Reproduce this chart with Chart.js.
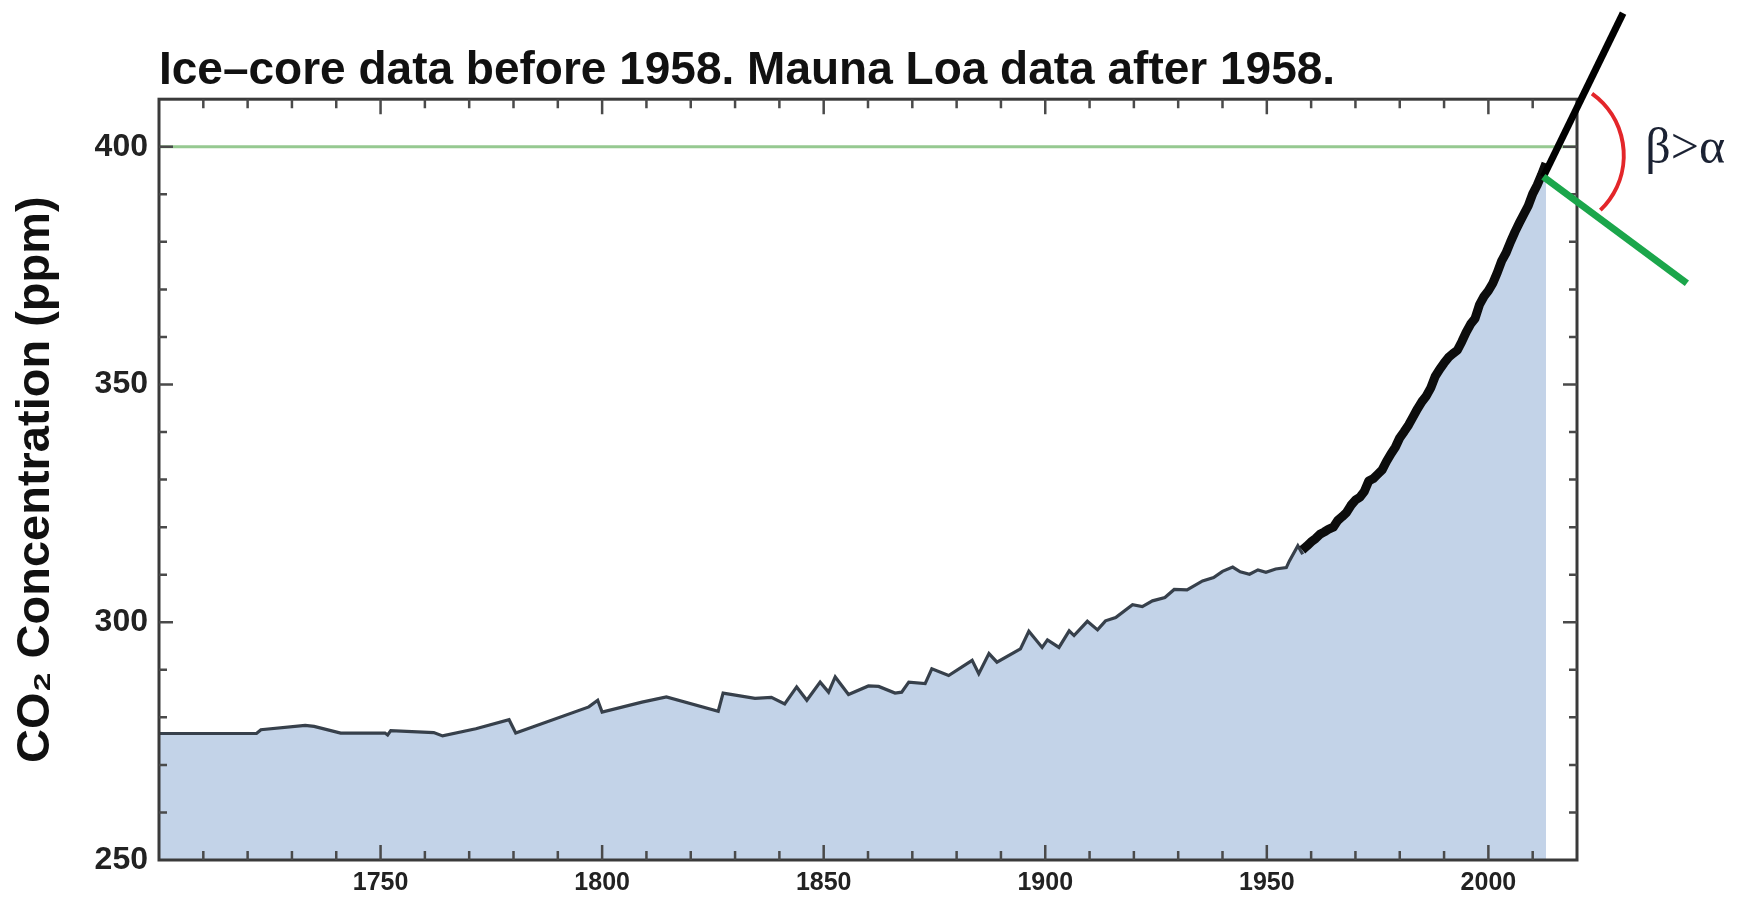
<!DOCTYPE html>
<html>
<head>
<meta charset="utf-8">
<title>CO2 concentration</title>
<script src="https://cdn.jsdelivr.net/npm/chart.js@4.4.1/dist/chart.umd.min.js"></script>
<style>
  html, body { margin: 0; padding: 0; background: #fff; }
  #wrap { width: 1740px; height: 897px; position: relative; }
</style>
</head>
<body>
<div id="wrap"><canvas id="co2Chart"></canvas></div>
<script>
// --- data ---
const iceYears = [1700, 1722, 1723, 1733, 1735, 1741, 1751, 1751.6, 1752.3, 1762, 1764, 1771.5,
    1779, 1780.5, 1797, 1799, 1800, 1809, 1814.5, 1826.2, 1827.3, 1834.5, 1838.2, 1841.2,
    1843.9, 1846.2, 1849.2, 1851.1, 1852.6, 1855.6, 1860.1, 1862.4, 1866.1, 1867.6, 1869.2,
    1872.9, 1874.4, 1878.2, 1883.5, 1885, 1887.3, 1889.1, 1894.4, 1896.3, 1899.3, 1900.5,
    1903.1, 1905.4, 1906.5, 1909.5, 1911.8, 1913.6, 1915.9, 1919.7, 1921.9, 1924.2, 1927, 1929.1,
    1932, 1935.5, 1938, 1940, 1942.3, 1944, 1946.1, 1948, 1949.8, 1952, 1954.4, 1955.1, 1957, 1958.1];
const icePpm = [276.6, 276.6, 277.4, 278.3, 278.1, 276.7, 276.7, 276.3, 277.2, 276.8, 276.1, 277.6,
    279.5, 276.7, 282.2, 283.6, 281.1, 283.2, 284.3, 281.3, 285.1, 284.0, 284.2, 282.8,
    286.4, 283.6, 287.4, 285.3, 288.5, 284.8, 286.6, 286.5, 285.1, 285.3, 287.4,
    287.1, 290.2, 288.8, 292.0, 289.2, 293.4, 291.6, 294.4, 298.1, 294.7, 296.3,
    294.7, 298.2, 297.2, 300.2, 298.4, 300.3, 301.0, 303.7, 303.3, 304.5, 305.2, 306.9,
    306.8, 308.7, 309.4, 310.7, 311.6, 310.6, 310.1, 311.0, 310.5, 311.2, 311.5, 312.9, 316.1, 314.3];

const mlYears = [1958, 1959, 1960, 1961, 1962, 1963, 1964, 1965, 1966, 1967, 1968, 1969, 1970,
    1971, 1972, 1973, 1974, 1975, 1976, 1977, 1978, 1979, 1980, 1981, 1982, 1983, 1984, 1985,
    1986, 1987, 1988, 1989, 1990, 1991, 1992, 1993, 1994, 1995, 1996, 1997, 1998, 1999, 2000,
    2001, 2002, 2003, 2004, 2005, 2006, 2007, 2008, 2009, 2010, 2011, 2012, 2013];
const mlPpm = [315.2, 316.0, 316.9, 317.6, 318.5, 319.0, 319.6, 320.0, 321.4, 322.2, 323.1, 324.6, 325.7,
    326.3, 327.5, 329.7, 330.2, 331.1, 332.0, 333.8, 335.4, 336.8, 338.8, 340.1, 341.5, 343.2, 344.9, 346.4,
    347.6, 349.3, 351.7, 353.2, 354.5, 355.7, 356.5, 357.2, 359.0, 361.0, 362.7, 363.9, 366.8, 368.5, 369.7,
    371.3, 373.5, 376.0, 377.7, 380.0, 382.1, 384.0, 385.8, 387.6, 390.1, 391.9, 394.1, 396.5];

// tangent (black) and the lower (green) line from the end of the record
const tangentYears = [2012.4, 2030.4];
const tangentPpm = [393.7, 428.1];
const lowerYears = [2012.4, 2044.8];
const lowerPpm = [393.7, 371.3];

const refYears = [1700, 2020];
const refPpm = [400, 400];

const xTicks = [1750, 1800, 1850, 1900, 1950, 2000];
const yTicks = [250, 300, 350, 400];

const titleText = 'Ice\u2013core data before 1958. Mauna Loa data after 1958.';
const yTitle = 'CO\u2082 Concentration (ppm)';
const angleLabel = '\u03B2>\u03B1';

// angle marker: centre in data units
const arcCentre = { x: 2013.4, y: 398.2 };
const labelAnchor = { x: 2035.4, y: 396.6 };

const toPoints = (xs, ys) => xs.map((x, i) => ({ x: x, y: ys[i] }));

// frame plus inward ticks on all four sides
const framePlugin = {
    id: 'frame',
    afterDatasetDraw(chart, args) {
        if (args.index !== 3) return;   // after the Mauna Loa record, before the tangent lines
        const { ctx, chartArea: a } = chart;
        const xs = chart.scales.x, ys = chart.scales.y;
        ctx.save();
        ctx.strokeStyle = '#3a3a3a';
        ctx.lineWidth = 3;
        ctx.strokeRect(a.left, a.top, a.right - a.left, a.bottom - a.top);
        ctx.lineWidth = 2.5;
        ctx.strokeStyle = '#4a4a4a';
        ctx.beginPath();
        for (let v = xs.min + 10; v < xs.max; v += 10) {
            const p = xs.getPixelForValue(v);
            const len = v % 50 === 0 ? 15 : 9;
            ctx.moveTo(p, a.bottom); ctx.lineTo(p, a.bottom - len);
            ctx.moveTo(p, a.top); ctx.lineTo(p, a.top + len);
        }
        for (let v = ys.min + 10; v < ys.max; v += 10) {
            const p = ys.getPixelForValue(v);
            const len = v % 50 === 0 ? 14 : 8;
            ctx.moveTo(a.left, p); ctx.lineTo(a.left + len, p);
            ctx.moveTo(a.right, p); ctx.lineTo(a.right - len, p);
        }
        ctx.stroke();
        ctx.restore();
    },
    afterDraw(chart) {
        const { ctx } = chart;
        const xs = chart.scales.x, ys = chart.scales.y;
        ctx.save();
        // red angle arc
        ctx.strokeStyle = '#e3262a';
        ctx.lineWidth = 4;
        ctx.beginPath();
        ctx.arc(xs.getPixelForValue(arcCentre.x), ys.getPixelForValue(arcCentre.y), 76,
            -54.4 * Math.PI / 180, 46.2 * Math.PI / 180);
        ctx.stroke();
        // beta > alpha
        ctx.fillStyle = '#1b2233';
        ctx.font = "50px 'Liberation Serif', serif";
        ctx.textAlign = 'left';
        ctx.textBaseline = 'alphabetic';
        ctx.fillText(angleLabel, xs.getPixelForValue(labelAnchor.x), ys.getPixelForValue(labelAnchor.y));
        ctx.restore();
    }
};

Chart.defaults.font.family = "'Liberation Sans', Arial, sans-serif";
Chart.defaults.color = '#1e1e1e';

new Chart(document.getElementById('co2Chart').getContext('2d'), {
    type: 'line',
    data: {
        datasets: [
            {
                label: '400 ppm',
                data: toPoints(refYears, refPpm),
                borderColor: '#96c991',
                borderWidth: 3,
                pointRadius: 0,
                fill: false,
                order: 3
            },
            {
                label: 'Area',
                data: toPoints(iceYears, icePpm).concat(toPoints(mlYears, mlPpm)),
                borderWidth: 0,
                borderColor: 'rgba(0,0,0,0)',
                backgroundColor: '#c3d3e8',
                pointRadius: 0,
                fill: 'start',
                order: 2
            },
            {
                label: 'Ice core',
                data: toPoints(iceYears, icePpm),
                borderColor: '#37404b',
                borderWidth: 3.2,
                pointRadius: 0,
                fill: false,
                order: 1
            },
            {
                label: 'Mauna Loa',
                data: toPoints(mlYears, mlPpm),
                borderColor: '#0c0c0c',
                borderWidth: 9,
                pointRadius: 0,
                fill: false,
                order: 0,
                borderJoinStyle: 'round'
            },
            {
                label: 'Tangent',
                data: toPoints(tangentYears, tangentPpm),
                borderColor: '#000000',
                borderWidth: 7,
                pointRadius: 0,
                fill: false,
                clip: false,
                order: -1
            },
            {
                label: 'Lower',
                data: toPoints(lowerYears, lowerPpm),
                borderColor: '#1ba64b',
                borderWidth: 7,
                pointRadius: 0,
                fill: false,
                clip: false,
                order: -2
            }
        ]
    },
    options: {
        responsive: true,
        maintainAspectRatio: false,
        animation: false,
        layout: { padding: { left: 0, right: 163, top: 0, bottom: 0 } },
        plugins: {
            legend: { display: false },
            tooltip: { enabled: false },
            title: {
                display: true,
                text: titleText,
                align: 'start',
                fullSize: false,
                color: '#111',
                font: { size: 46, weight: 'bold', lineHeight: 1.2 },
                padding: { top: 44, bottom: 0 }
            }
        },
        scales: {
            x: {
                type: 'linear',
                min: 1700,
                max: 2020,
                grid: { display: false, drawTicks: false },
                border: { display: false },
                afterBuildTicks: (scale) => { scale.ticks = xTicks.map(v => ({ value: v })); },
                afterFit: (scale) => { scale.height = 37; },
                ticks: {
                    padding: 8,
                    maxRotation: 0,
                    font: { size: 25, weight: 'bold' },
                    color: '#222',
                    callback: (v) => String(v)
                }
            },
            y: {
                min: 250,
                max: 410,
                grid: { display: false, drawTicks: false },
                border: { display: false },
                afterBuildTicks: (scale) => { scale.ticks = yTicks.map(v => ({ value: v })); },
                afterFit: (scale) => { scale.width = 159; },
                ticks: {
                    padding: 11,
                    font: { size: 32, weight: 'bold' },
                    color: '#222',
                    callback: (v) => String(v)
                },
                title: {
                    display: true,
                    text: yTitle,
                    color: '#111',
                    font: { size: 47, weight: 'bold', lineHeight: 1 },
                    padding: { top: 13, bottom: 0 }
                }
            }
        }
    },
    plugins: [framePlugin]
});
</script>
</body>
</html>
